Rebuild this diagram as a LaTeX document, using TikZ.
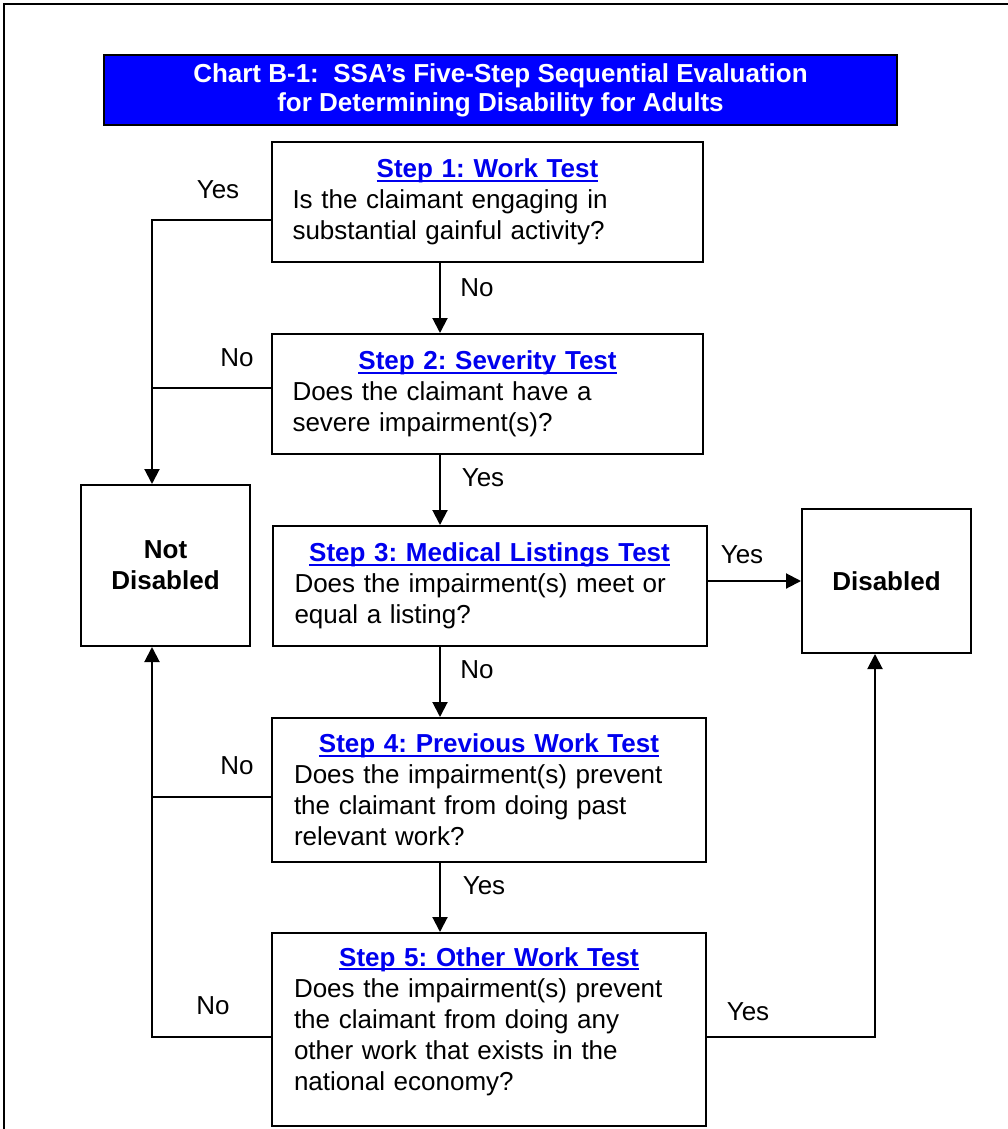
\documentclass[tikz,border=0pt]{standalone}
\usepackage{fontspec}
\setmainfont{Liberation Sans}
\usepackage{xcolor}
\usetikzlibrary{arrows.meta, positioning, calc}
\definecolor{chartblue}{RGB}{0, 0, 255}
\definecolor{linkblue}{RGB}{0, 0, 238}

\newcommand{\chartfont}{\fontsize{26}{31}\selectfont}
\newcommand{\ulined}[1]{\setbox0\hbox{#1}\rlap{\rule[-4pt]{\wd0}{2.2pt}}\box0}
\newcommand{\steptitle}[1]{\makebox[\linewidth]{\color{linkblue}\bfseries\ulined{#1}}}

\tikzset{
    stepbox/.style={draw, line width=2pt, minimum width=434pt, minimum height=120pt,
        text width=390pt, align=left, inner xsep=0pt},
    endbox/.style={draw, line width=2pt, minimum width=169pt, align=center,
        font=\chartfont\bfseries},
    titlebox/.style={draw, line width=2pt, fill=chartblue, text=white, align=center,
        minimum width=793pt, minimum height=70pt, font=\fontsize{26}{29}\selectfont\bfseries},
    line/.style={line width=2pt},
    flow/.style={line width=2pt, -{Triangle[length=15pt, width=15pt]}},
    lbl/.style={inner sep=0pt}
}

\begin{document}
\frenchspacing
\begin{tikzpicture}[x=1pt, y=-1pt, font=\chartfont]
    \useasboundingbox (0,0) rectangle (1008,1129);
    \draw[line] (1008,4) -- (4,4) -- (4,1129);

    % Title
    \node[titlebox] (title) at (500.5,90) {Chart B-1:~ SSA’s Five-Step Sequential Evaluation\\ for Determining Disability for Adults};

    % Steps
    \node[stepbox, minimum width=431pt] (s1) at (487.5,202) {\steptitle{Step 1: Work Test}\\ Is the claimant engaging in\\ substantial gainful activity?};
    \node[stepbox, minimum width=431pt] (s2) at (487.5,394) {\steptitle{Step 2: Severity Test}\\ Does the claimant have a\\ severe impairment(s)?};
    \node[stepbox] (s3) at (489.5,586) {\steptitle{Step 3: Medical Listings Test}\\ Does the impairment(s) meet or\\ equal a listing?};
    \node[stepbox, minimum height=144pt] (s4) at (489,790) {\steptitle{Step 4: Previous Work Test}\\ Does the impairment(s) prevent\\ the claimant from doing past\\ relevant work?};
    \node[stepbox, minimum height=193pt] (s5) at (489,1029.5) {\steptitle{Step 5: Other Work Test}\\ Does the impairment(s) prevent\\ the claimant from doing any\\ other work that exists in the\\ national economy?\rule[-21pt]{0pt}{21pt}};

    % Outcomes
    \node[endbox, minimum height=161pt] (nd) at (165.5,565.5) {Not\\ Disabled};
    \node[endbox, minimum height=144pt] (d) at (886.5,581) {Disabled};

    % Connectors
    \coordinate (spine) at (440,0);
    \coordinate (j1) at (152,220);
    \coordinate (j2) at (152,388);
    \coordinate (j4) at (152,797);
    \coordinate (j5) at (152,1037);
    \coordinate (k5) at (875,1037);

    \draw[flow] (spine |- s1.south) -- (spine |- s2.north);
    \draw[flow] (spine |- s2.south) -- (spine |- s3.north);
    \draw[flow] (spine |- s3.south) -- (spine |- s4.north);
    \draw[flow] (spine |- s4.south) -- (spine |- s5.north);

    \draw[flow] (j1 -| s1.west) -- (j1) -- (j1 |- nd.north);
    \draw[line] (j2 -| s2.west) -- (j2);
    \draw[line] (j4 -| s4.west) -- (j4);
    \draw[flow] (j5 -| s5.west) -- (j5) -- (j5 |- nd.south);
    \draw[flow] (d.west -| s3.east) -- (d.west);
    \draw[flow] (k5 -| s5.east) -- (k5) -- (k5 |- d.south);

    % Answers
    \node[lbl] (y1) at (218,190) {Yes};
    \node[lbl] (n1) at (477,288) {No};
    \node[lbl] (n2) at (237,358) {No};
    \node[lbl] (y2) at (483,478) {Yes};
    \node[lbl] (y3) at (742,555) {Yes};
    \node[lbl] (n3) at (477,670) {No};
    \node[lbl] (n4) at (237,766) {No};
    \node[lbl] (y4) at (484,886) {Yes};
    \node[lbl] (n5) at (213,1006) {No};
    \node[lbl] (y5) at (748,1012) {Yes};
\end{tikzpicture}
\end{document}
